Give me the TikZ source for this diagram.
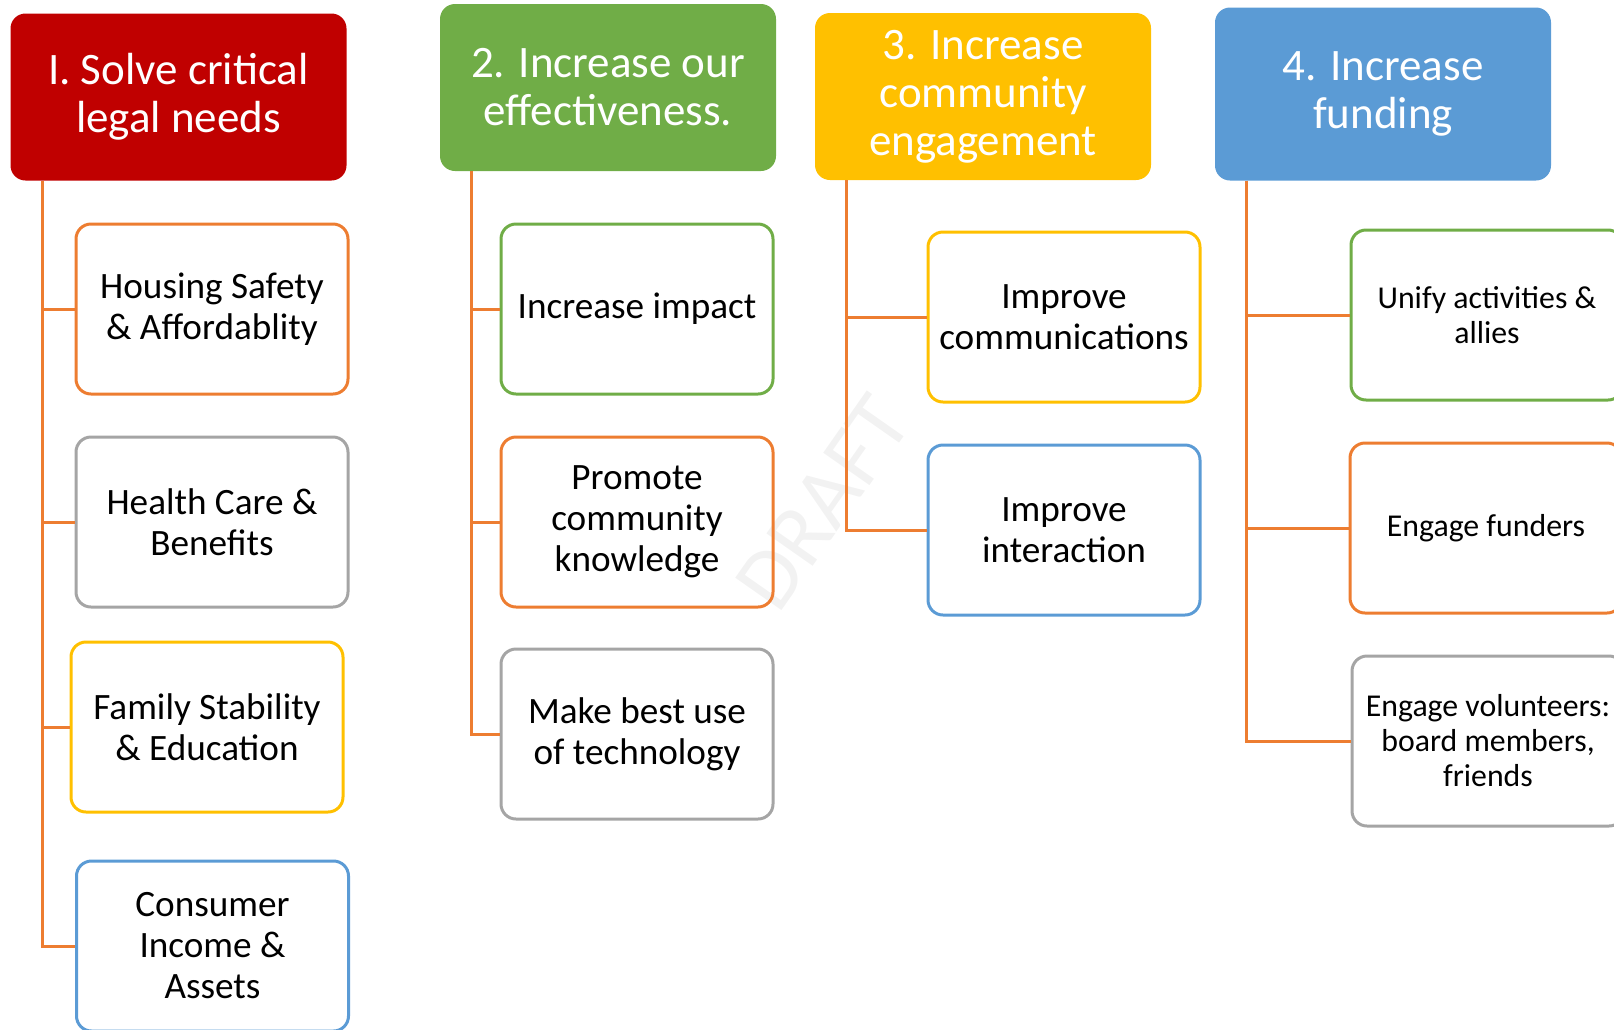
\documentclass[tikz,border=0pt]{standalone}
\usepackage{fontspec}
\setmainfont{Carlito}
\usetikzlibrary{calc}

\definecolor{cRed}{HTML}{C00000}
\definecolor{cGreen}{HTML}{70AD47}
\definecolor{cYellow}{HTML}{FFC000}
\definecolor{cBlue}{HTML}{5B9BD5}
\definecolor{cOrange}{HTML}{ED7D31}
\definecolor{cGray}{HTML}{A5A5A5}

\tikzset{
  header/.style={rectangle, rounded corners=15pt, minimum width=336pt,
    minimum height=167pt, text=white, align=center, inner sep=0pt,
    font=\fontsize{45}{48}\selectfont},
  goal/.style={rectangle, rounded corners=15pt, draw=#1, line width=3pt,
    minimum width=272pt, minimum height=170pt, align=center, inner sep=0pt,
    font=\fontsize{37.2}{41}\selectfont},
  smallgoal/.style={goal=#1, font=\fontsize{31.8}{35}\selectfont},
  conn/.style={draw=cOrange, line width=3pt},
}

\begin{document}
\begin{tikzpicture}[x=1pt, y=-1pt]
\useasboundingbox (0,0) rectangle (1614,1029);

% watermark, behind everything else
\node[rotate=55, text=black!5, font=\fontsize{88}{88}\selectfont] (wm) at (823, 503) {DRAFT};

% column headers
\node[header, fill=cRed]    (h1) at (178.5, 97)   {I. Solve critical\\legal needs};
\node[header, fill=cGreen]  (h2) at (608, 87.5)   {2. Increase our\\effectiveness.};
\node[header, fill=cYellow] (h3) at (983, 96.5)   {3. Increase\\community\\engagement};
\node[header, fill=cBlue, minimum height=173pt] (h4) at (1383, 94) {4. Increase\\funding};

% column 1
\node[goal=cOrange] (c11) at (212, 309)   {Housing Safety\\\& Affordablity};
\node[goal=cGray]   (c12) at (212, 522)   {Health Care \&\\Benefits};
\node[goal=cYellow] (c13) at (207, 727)   {Family Stability\\\& Education};
\node[goal=cBlue]   (c14) at (212.5, 946) {Consumer\\Income \&\\Assets};

% column 2
\node[goal=cGreen]  (c21) at (637, 309) {Increase impact};
\node[goal=cOrange] (c22) at (637, 522) {Promote\\community\\knowledge};
\node[goal=cGray]   (c23) at (637, 734) {Make best use\\of technology};

% column 3
\node[goal=cYellow] (c31) at (1064, 317) {Improve\\communications};
\node[goal=cBlue]   (c32) at (1064, 530) {Improve\\interaction};

% column 4
\node[smallgoal=cGreen]  (c41) at (1487, 315) {Unify activities \&\\allies};
\node[smallgoal=cOrange] (c42) at (1486, 528) {Engage funders};
\node[smallgoal=cGray]   (c43) at (1488, 741) {Engage volunteers:\\board members,\\friends};

% trunk-and-branch connectors
\foreach \h/\kids in {h1/{c11,c12,c13,c14}, h2/{c21,c22,c23}, h3/{c31,c32}, h4/{c41,c42,c43}}{
  \foreach \k in \kids {
    \draw[conn] ($(\h.south west)+(32,0)$) |- (\k.west);
  }
}
\end{tikzpicture}
\end{document}
